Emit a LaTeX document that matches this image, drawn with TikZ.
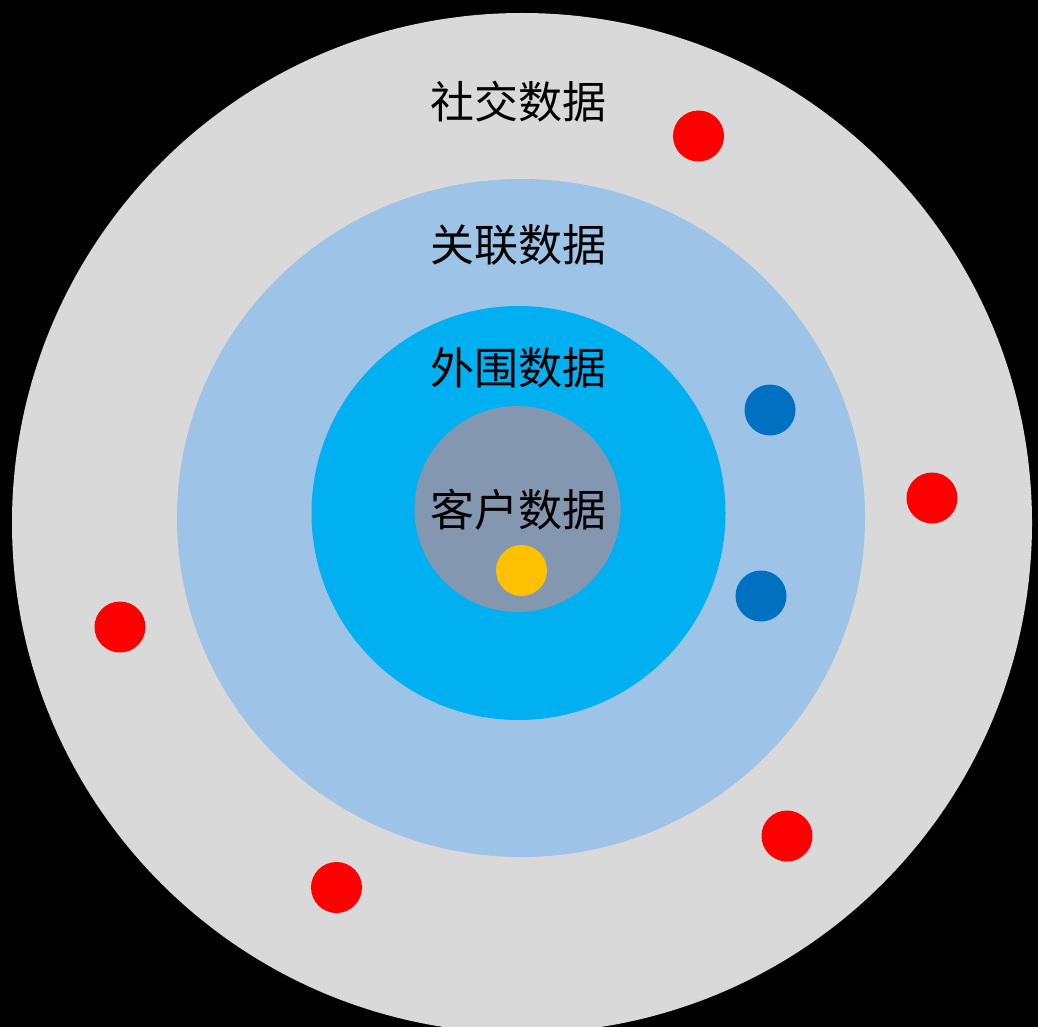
\documentclass[tikz,border=0pt]{standalone}
\usepackage{fontspec}
\newfontfamily\cjk{Noto Sans CJK SC}
\usetikzlibrary{positioning,shapes.geometric}

\definecolor{socialgray}{HTML}{D9D9D9}
\definecolor{linkblue}{HTML}{9DC3E6}
\definecolor{outercyan}{HTML}{00B0F0}
\definecolor{coregray}{HTML}{8497B0}
\definecolor{dotyellow}{HTML}{FFC000}
\definecolor{dotblue}{HTML}{0070C0}
\definecolor{dotred}{HTML}{FF0000}

\begin{document}
\begin{tikzpicture}
    [
      x=0.5pt, y=-0.5pt,
      my ring/.style={circle, inner sep=0pt, minimum size=#1},
      my dot/.style={circle, inner sep=0pt, minimum size=25.5pt, fill=#1},
      my label/.style={font=\cjk\fontsize{22}{26}\selectfont, text=black, inner sep=0pt}
    ]
    \useasboundingbox (0,0) rectangle (1038,1027);
    \fill [black] (0,0) rectangle (1038,1027);
    % rings, outer to inner
    \begin{scope}
      \clip (0,0) rectangle (1038,1027);
      \node (social) [my ring=510pt, fill=socialgray] at (522,523) {};
    \end{scope}
    \node (link) [ellipse, inner sep=0pt, minimum width=344pt, minimum height=339pt, fill=linkblue] at (521,518) {};
    \node (outer) [my ring=207pt, fill=outercyan] at (518.5,513) {};
    \node (core) [my ring=103pt, fill=coregray] at (517.5,509) {};
    % labels
    \node (social label) [my label] at (518,102) {社交数据};
    \node (link label) [my label] at (518,245) {关联数据};
    \node (outer label) [my label] at (518,368) {外围数据};
    \node (core label) [my label] at (518,510) {客户数据};
    % dots
    \node (yellow) [my dot=dotyellow] at (521.5,570.5) {};
    \node (blue 1) [my dot=dotblue] at (770,410) {};
    \node (blue 2) [my dot=dotblue] at (761,596) {};
    \node (red 1) [my dot=dotred] at (698.5,136) {};
    \node (red 2) [my dot=dotred] at (932,498) {};
    \node (red 3) [my dot=dotred] at (120,627) {};
    \node (red 4) [my dot=dotred] at (787,836) {};
    \node (red 5) [my dot=dotred] at (336.5,887.5) {};
\end{tikzpicture}
\end{document}
